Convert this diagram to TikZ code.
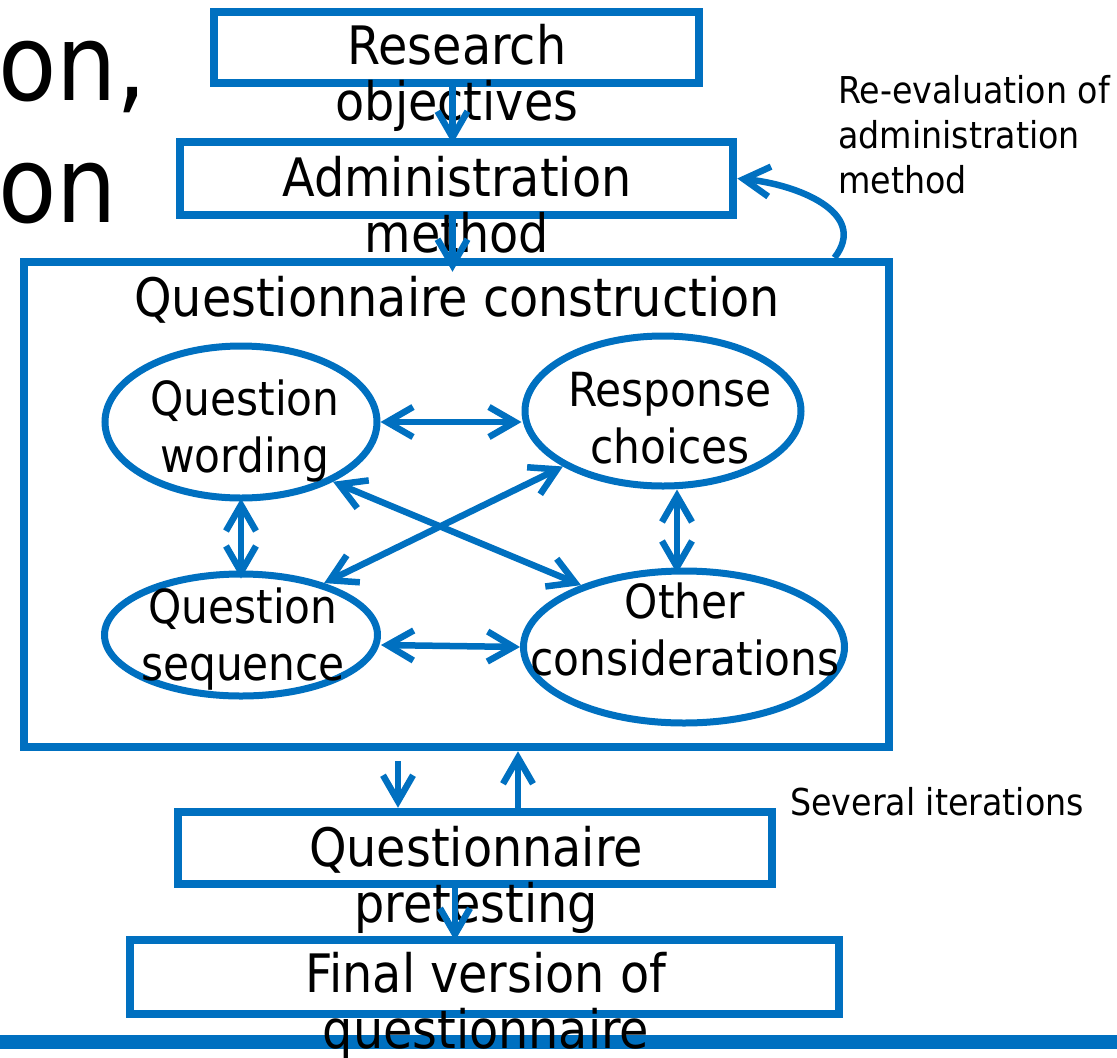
\documentclass[tikz,border=0pt]{standalone}
\usepackage{fontspec}
\setmainfont{DejaVu Sans Condensed}
\usetikzlibrary{arrows.meta, shapes.geometric}
\definecolor{boxblue}{HTML}{0070C0}

\tikzset{
  flowbox/.style={draw=boxblue, line width=8.5pt, inner sep=0pt},
  bubble/.style={ellipse, draw=boxblue, line width=7pt, inner sep=0pt},
  flowtext/.style={align=center, inner sep=0pt, anchor=base, font=\fontsize{53}{56}\selectfont},
  bubbletext/.style={align=center, inner sep=0pt, anchor=base, font=\fontsize{47}{57}\selectfont},
  sidetext/.style={align=left, inner sep=0pt, anchor=base west, font=\fontsize{37}{45}\selectfont},
  barb/.tip={Straight Barb[length=26pt, width=30pt]},
  link/.style={draw=boxblue, line width=6.5pt, -barb},
  twoway/.style={link, barb-barb}
}

\begin{document}
\begin{tikzpicture}[x=1pt, y=-1pt]
        \useasboundingbox (0,0) rectangle (1117,1058);

        % Leftover slide title
        \node[anchor=base west, inner sep=0pt, font=\fontsize{106}{120}\selectfont] (title1) at (-2,100) {on,};
        \node[anchor=base west, inner sep=0pt, font=\fontsize{106}{120}\selectfont] (title2) at (-2,222) {on};

        % Bottom rule
        \fill[boxblue] (0,1035) rectangle (1117,1049);

        % Boxes
        \node[flowbox, minimum width=485pt, minimum height=71pt] (ro) at (456.5,47.5) {};
        \node[flowbox, minimum width=553pt, minimum height=73pt] (am) at (456.5,178.5) {};
        \node[flowbox, minimum width=865pt, minimum height=485pt] (qc) at (456.5,504.5) {};
        \node[flowbox, minimum width=594pt, minimum height=72pt] (pt) at (475,848) {};
        \node[flowbox, minimum width=709pt, minimum height=74pt] (fv) at (484.5,977) {};

        % Ellipses
        \node[bubble, minimum width=272pt, minimum height=152pt] (qw) at (241,422) {};
        \node[bubble, minimum width=276pt, minimum height=150pt] (rc) at (663,411) {};
        \node[bubble, minimum width=273pt, minimum height=122pt] (qs) at (241,635) {};
        \node[bubble, minimum width=321pt, minimum height=152pt] (oc) at (684,647) {};

        % Texts
        \node[flowtext] (ro-t) at (457,120) {Research\\objectives};
        \node[flowtext] (am-t) at (457,252) {Administration\\method};
        \node[flowtext] (qc-t) at (457,316) {Questionnaire construction};
        \node[bubbletext] (qw-t) at (245,472) {Question\\wording};
        \node[bubbletext] (rc-t) at (670,463) {Response\\choices};
        \node[bubbletext] (qs-t) at (243,680) {Question\\sequence};
        \node[bubbletext] (oc-t) at (685,675) {Other\\considerations};
        \node[flowtext] (pt-t) at (476,922) {Questionnaire\\pretesting};
        \node[flowtext] (fv-t) at (486,1048) {Final version of\\questionnaire};
        \node[sidetext] (re-t) at (838,193) {Re-evaluation of\\administration\\method};
        \node[sidetext] (it-t) at (790,815) {Several iterations};

        % Flow arrows
        \draw[link, shorten >=-6pt] ([xshift=-4pt]ro.south) -- ([xshift=-4pt]am.north);
        \draw[link, shorten >=-14pt] ([xshift=-4pt]am.south) -- ([xshift=-4pt]qc.north);
        \draw[link, shorten <=10pt] ([xshift=-77pt]pt.north |- qc.south) -- ([xshift=-77pt]pt.north);
        \draw[link] ([xshift=43pt]pt.north) -- ([xshift=43pt]pt.north |- qc.south);
        \draw[link, shorten >=-5pt] ([xshift=-20pt]pt.south) -- ([xshift=-20pt]pt.south |- fv.north);
        \draw[link] ([xshift=378pt]qc.north) .. controls (870,212) and (795,184) .. (am.east);

        % Links between ellipses
        \draw[twoway] (qw.east) -- (qw.east -| rc.west);
        \draw[twoway, shorten <=-3pt, shorten >=-8pt] (qw.south) -- (qs.north);
        \draw[twoway, shorten >=-6pt] ([xshift=-7pt]oc.north |- rc.south) -- ([xshift=-7pt]oc.north);
        \draw[twoway] ([yshift=-10pt]qs.east) -- (oc.west);
        \draw[twoway] (qw.-33) -- (oc.149);
        \draw[twoway] (rc.-151) -- (qs.32);
\end{tikzpicture}
\end{document}
